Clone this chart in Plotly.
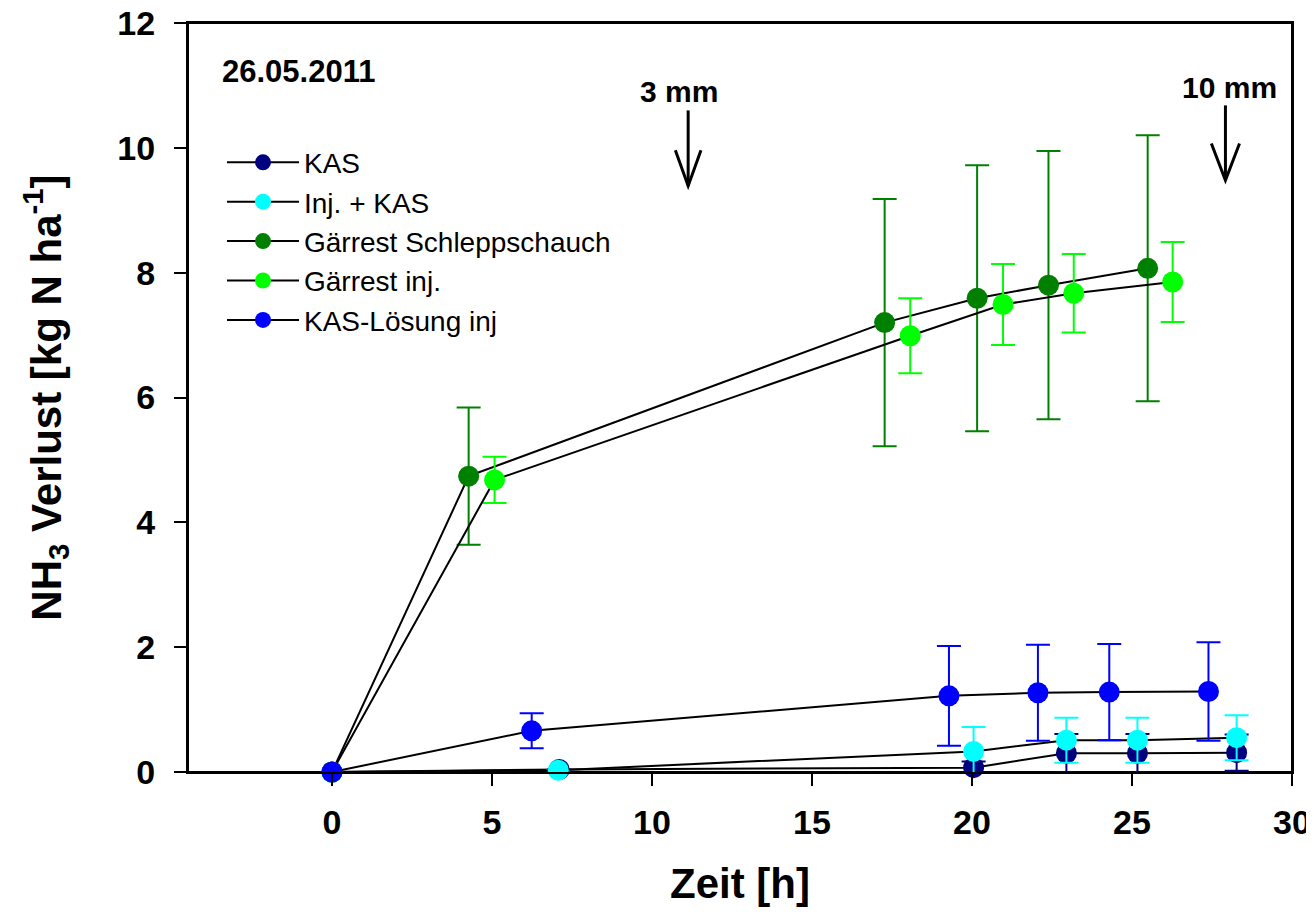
import plotly.graph_objects as go

# ---------------- data ----------------
names = ["KAS", "Inj. + KAS", "Gärrest Schleppschauch", "Gärrest inj.", "KAS-Lösung inj"]
colors = ["#000080", "#00FFFF", "#008000", "#00FF00", "#0000FF"]

t_kas = [0, 7.1, 20.05, 22.95, 25.17, 28.27]
y_kas = [0, 0.04, 0.07, 0.30, 0.30, 0.31]
e_kas = [None, None, 0.10, 0.31, 0.31, 0.29]

t_injkas = [0, 7.07, 20.05, 22.95, 25.17, 28.27]
y_injkas = [0, 0.03, 0.33, 0.51, 0.51, 0.55]
e_injkas = [None, None, 0.39, 0.36, 0.36, 0.36]

t_gs = [0, 4.27, 17.27, 20.16, 22.39, 25.49]
y_gs = [0, 4.74, 7.20, 7.59, 7.80, 8.07]
e_gs = [None, 1.10, 1.98, 2.13, 2.15, 2.13]

t_gi = [0, 5.08, 18.07, 20.97, 23.18, 26.27]
y_gi = [0, 4.68, 6.99, 7.49, 7.67, 7.85]
e_gi = [None, 0.37, 0.60, 0.65, 0.63, 0.64]

t_kl = [0, 6.24, 19.28, 22.06, 24.29, 27.39]
y_kl = [0, 0.66, 1.22, 1.27, 1.28, 1.29]
e_kl = [None, 0.28, 0.80, 0.77, 0.77, 0.79]

series = [(t_kas, y_kas, e_kas), (t_injkas, y_injkas, e_injkas), (t_gs, y_gs, e_gs),
          (t_gi, y_gi, e_gi), (t_kl, y_kl, e_kl)]

x_ticks = [0, 5, 10, 15, 20, 25, 30]
y_ticks = [0, 2, 4, 6, 8, 10, 12]

rain_labels = ["3 mm", "10 mm"]
rain_x = [11.13, 27.92]
rain_label_x = [10.84, 28.06]
rain_label_y = [10.9, 10.97]
date_label = "26.05.2011"

FONT = "Liberation Sans, Arial, sans-serif"

fig = go.Figure()

# plot frame
fig.add_shape(type="rect", xref="paper", yref="paper", x0=0, x1=1, y0=0, y1=1,
              line=dict(color="black", width=2), layer="below")

for (t, y, e), name, col in zip(series, names, colors):
    fig.add_trace(go.Scatter(
        x=t, y=y, name=name, mode="lines+markers",
        line=dict(color="black", width=2),
        marker=dict(color=col, size=21, line=dict(width=0)),
        error_y=dict(type="data", array=e, visible=True, color=col, thickness=2, width=12),
        cliponaxis=False,
    ))

# rain arrows (shapes) and labels
for lab, xa, lx, ly, ytop, ybot, yv, hw in zip(rain_labels, rain_x, rain_label_x, rain_label_y,
                                                [10.6, 10.68], [9.39, 9.48], [9.96, 10.07], [0.4, 0.44]):
    fig.add_shape(type="line", x0=xa, x1=xa, y0=ytop, y1=ybot, line=dict(color="black", width=3))
    fig.add_shape(type="path", path=f"M {xa-hw} {yv} L {xa} {ybot} L {xa+hw} {yv}",
                  line=dict(color="black", width=3))
    fig.add_annotation(x=lx, y=ly, text=f"<b>{lab}</b>", showarrow=False,
                       font=dict(family=FONT, size=30, color="black"), xanchor="center", yanchor="middle")

fig.add_annotation(x=-3.49, y=11.22, text=f"<b>{date_label}</b>",
                   showarrow=False, xanchor="left", yanchor="middle",
                   font=dict(family=FONT, size=31, color="black"))

axis_common = dict(showgrid=False, zeroline=False, showline=True, linecolor="black", linewidth=2,
                   mirror=True, ticks="outside", ticklen=12, tickwidth=2, tickcolor="black",
                   automargin=False, ticklabeloverflow="allow",
                   tickfont=dict(family=FONT, size=34, color="black"))

# page body has an 8px margin, so the figure is 8px smaller than the window
fig.update_layout(
    width=1306, height=904,
    margin=dict(l=180, r=22, t=15, b=140),
    paper_bgcolor="white", plot_bgcolor="white",
    showlegend=True,
    legend=dict(x=0.0308, y=0.847, xanchor="left", yanchor="top", bgcolor="rgba(0,0,0,0)",
                font=dict(family=FONT, size=28, color="black"), itemwidth=72,
                tracegroupgap=0, itemsizing="trace"),
    xaxis=dict(range=[-4.5, 30], tickvals=x_ticks, ticktext=[f"<b>{v}</b>" for v in x_ticks],
               title=dict(text="<b>Zeit [h]</b>", font=dict(family=FONT, size=42, color="black"), standoff=29),
               ticklabelstandoff=7,
               **axis_common),
    yaxis=dict(range=[0, 12], tickvals=y_ticks, ticktext=[f"<b>{v}</b>" for v in y_ticks],
               title=dict(text="<b>NH<sub>3</sub> Verlust [kg N ha<sup>-1</sup>]</b>",
                          font=dict(family=FONT, size=42, color="black"), standoff=43),
               ticklabelstandoff=12,
               **axis_common),
)

fig.write_html("out.html")
